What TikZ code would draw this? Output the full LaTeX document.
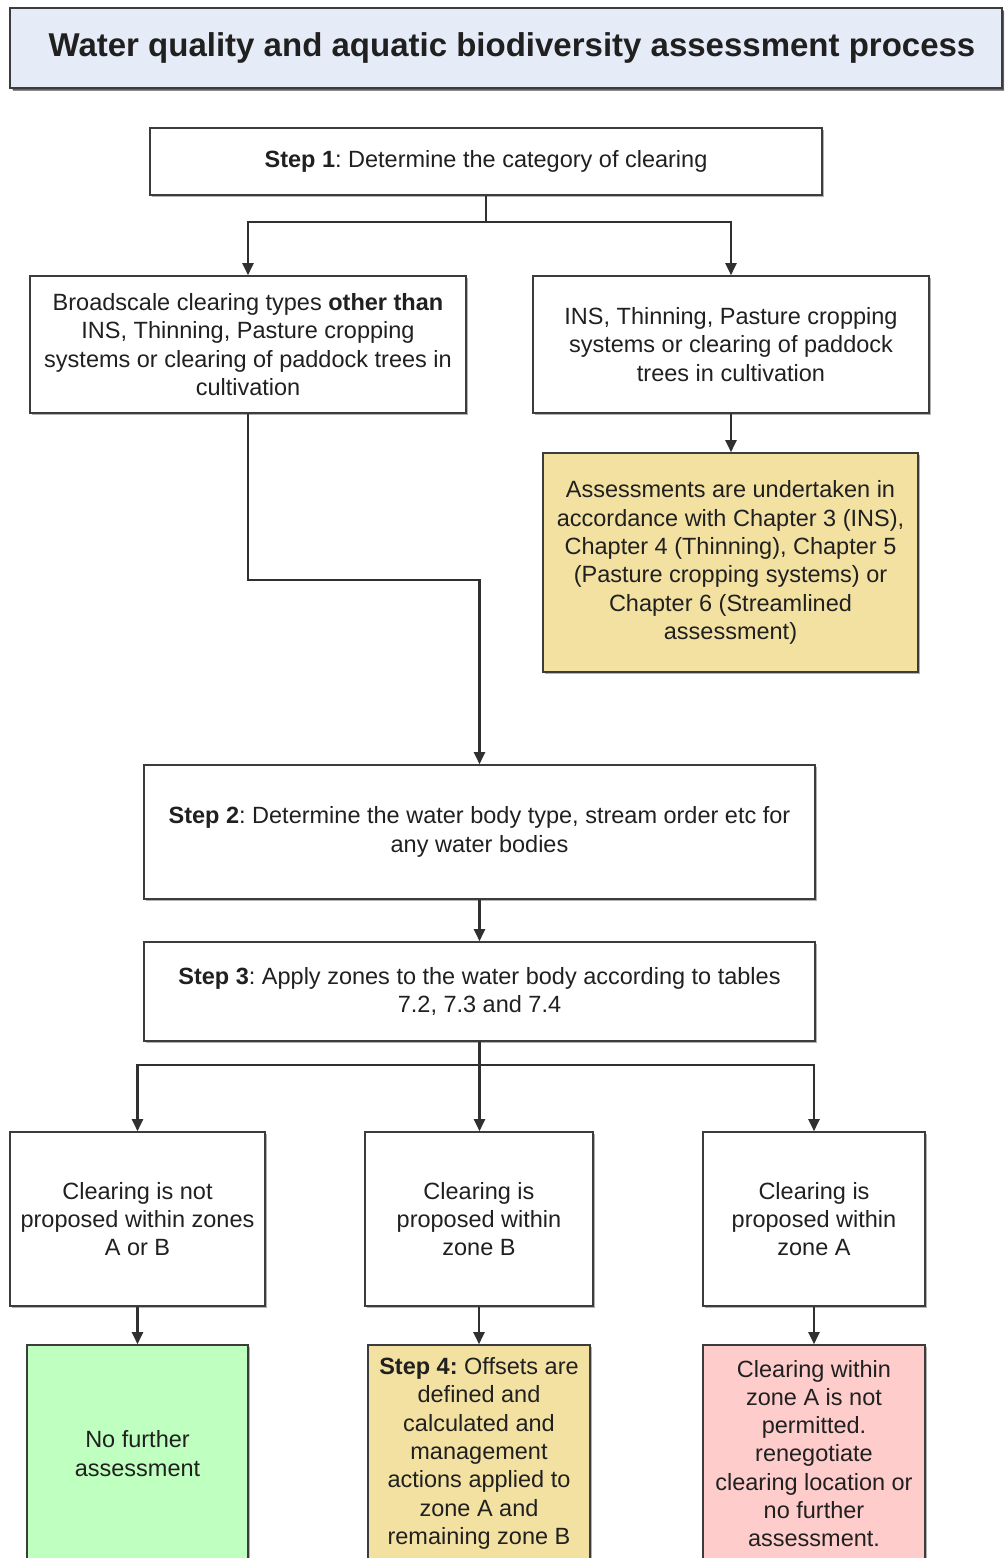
\documentclass[tikz,border=0pt]{standalone}
\usepackage{fontspec}
\setmainfont{Liberation Sans}
\frenchspacing
\usetikzlibrary{arrows.meta,shadows}
\definecolor{ink}{HTML}{202020}
\definecolor{edge}{HTML}{3C3C3C}
\definecolor{wire}{HTML}{303030}
\definecolor{titlefill}{HTML}{E6ECF7}
\definecolor{sand}{HTML}{F2E1A1}
\definecolor{mint}{HTML}{BFFFBF}
\definecolor{blush}{HTML}{FFCCCC}

\begin{document}
\begin{tikzpicture}[x=1pt,y=-1pt,
  box/.style={draw=edge, line width=1.6pt, fill=white, inner sep=0pt,
    align=center, text=ink, font=\fontsize{23.5}{28.3}\selectfont,
    drop shadow={shadow xshift=1.6pt, shadow yshift=-1.6pt, fill=black, opacity=0.3}},
  link/.style={draw=wire, line width=2.1pt},
  arrow/.style={link, -{Triangle[length=12pt,width=11pt]}},
]
\useasboundingbox (0,0) rectangle (1004,1558);
\clip (0,0) rectangle (1004,1558);

% heading
\node[box, fill=titlefill, minimum width=992pt, minimum height=80pt,
  drop shadow={shadow xshift=2.5pt, shadow yshift=-3pt, fill=black, opacity=0.45}]
  (titlebox) at (506,48) {};
\node[text=ink, font=\fontsize{33}{40}\selectfont\bfseries, inner sep=0pt]
  (title) at (512,48) {Water quality and aquatic biodiversity assessment process};

% step 1 and the two categories of clearing
\node[box, minimum width=672pt, minimum height=67pt] (step1) at (486,161.5)
  {\textbf{Step 1}: Determine the category of clearing};
\node[box, minimum width=436pt, minimum height=137pt] (broad) at (248,344.5)
  {Broadscale clearing types \textbf{other than}\\
   INS, Thinning, Pasture cropping\\
   systems or clearing of paddock trees in\\
   cultivation};
\node[box, minimum width=396pt, minimum height=137pt] (ins) at (731,344.5)
  {INS, Thinning, Pasture cropping\\
   systems or clearing of paddock\\
   trees in cultivation};
\node[box, fill=sand, minimum width=375pt, minimum height=219pt] (chapters) at (730.5,562.5)
  {Assessments are undertaken in\\
   accordance with Chapter 3 (INS),\\
   Chapter 4 (Thinning), Chapter 5\\
   (Pasture cropping systems) or\\
   Chapter 6 (Streamlined\\
   assessment)};

% steps 2 and 3
\node[box, minimum width=671pt, minimum height=134pt] (step2) at (479.5,832)
  {\textbf{Step 2}: Determine the water body type, stream order etc for\\
   any water bodies};
\node[box, minimum width=671pt, minimum height=99pt] (step3) at (479.5,991.5)
  {\textbf{Step 3}: Apply zones to the water body according to tables\\
   7.2, 7.3 and 7.4};

% zone outcomes
\node[box, minimum width=255pt, minimum height=174pt] (nozone) at (137.5,1219)
  {Clearing is not\\ proposed within zones\\ A or B};
\node[box, minimum width=228pt, minimum height=174pt] (zoneb) at (479,1219)
  {Clearing is\\ proposed within\\ zone B};
\node[box, minimum width=222pt, minimum height=174pt] (zonea) at (814,1219)
  {Clearing is\\ proposed within\\ zone A};

\node[box, fill=mint, minimum width=221pt, minimum height=217pt] (nofurther) at (137.5,1453.5)
  {No further\\ assessment};
\node[box, fill=sand, minimum width=222pt, minimum height=217pt] (step4) at (479,1453.5)
  {\textbf{Step 4:} Offsets are\\ defined and\\ calculated and\\ management\\
   actions applied to\\ zone A and\\ remaining zone B};
\node[box, fill=blush, minimum width=222pt, minimum height=217pt] (notpermitted) at (814,1453.5)
  {Clearing within\\ zone A is not\\ permitted.\\ renegotiate\\
   clearing location or\\ no further\\ assessment.};

% connectors
\coordinate (split1) at (486,222);
\draw[link] (step1.south) -- (split1);
\draw[arrow] (split1) -| (broad.north);
\draw[arrow] (split1) -| (ins.north);
\draw[arrow] (ins.south) -- (ins.south |- chapters.north);

\coordinate (bend) at (248,580);
\draw[arrow] (broad.south) -- (bend) -| (step2.north);
\draw[arrow] (step2.south) -- (step3.north);

\coordinate (split3) at (479.5,1065);
\draw[link] (step3.south) -- (split3);
\draw[arrow] (split3) -| (nozone.north);
\draw[arrow] (split3) -- (split3 |- zoneb.north);
\draw[arrow] (split3) -| (zonea.north);

\draw[arrow] (nozone.south) -- (nozone.south |- nofurther.north);
\draw[arrow] (zoneb.south) -- (zoneb.south |- step4.north);
\draw[arrow] (zonea.south) -- (zonea.south |- notpermitted.north);
\end{tikzpicture}
\end{document}
